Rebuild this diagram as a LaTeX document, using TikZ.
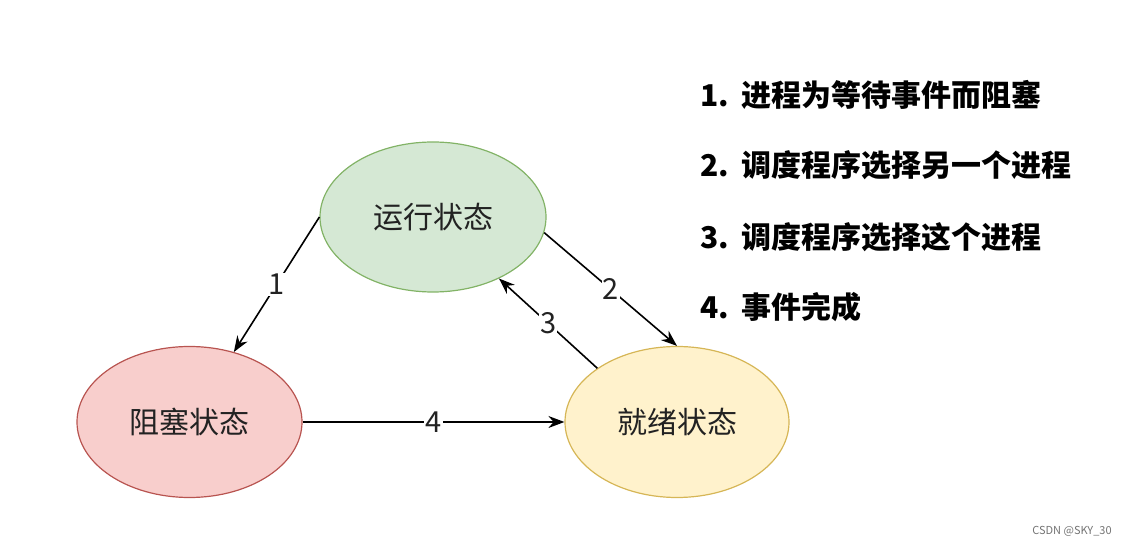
\documentclass[tikz,border=0pt]{standalone}
\usepackage{fontspec}
\setmainfont{Noto Sans CJK SC}
\usetikzlibrary{shapes.geometric,arrows.meta}
\definecolor{runfill}{HTML}{D5E8D4}
\definecolor{rundraw}{HTML}{82B366}
\definecolor{blockfill}{HTML}{F8CECC}
\definecolor{blockdraw}{HTML}{B85450}
\definecolor{readyfill}{HTML}{FFF2CC}
\definecolor{readydraw}{HTML}{D6B656}
\definecolor{statetext}{HTML}{222222}
\begin{document}
\begin{tikzpicture}[x=1pt,y=1pt,
    state/.style={ellipse, inner sep=0pt, line width=1.2pt, text=statetext,
        font=\fontsize{30}{36}\selectfont},
    trans/.style={-{Stealth[length=16pt,width=12pt]}, line width=1.6pt},
    num/.style={fill=white, inner sep=1pt, text=statetext,
        font=\fontsize{29}{34}\selectfont},
    note/.style={anchor=west, inner sep=0pt, font=\fontsize{30}{36}\selectfont\bfseries}]
    \useasboundingbox (0,0) rectangle (1130,546);

    % the three states
    \node[state, fill=runfill, draw=rundraw, minimum width=226pt, minimum height=150pt] (run) at (433,329) {运行状态};
    \node[state, fill=blockfill, draw=blockdraw, minimum width=225pt, minimum height=151pt] (block) at (189.5,124) {阻塞状态};
    \node[state, fill=readyfill, draw=readydraw, minimum width=224pt, minimum height=151pt] (ready) at (677,124) {就绪状态};

    % transitions
    \draw[trans] (run.west) -- node[num] (n1) {1} (block);
    \draw[trans] (run.-8) -- node[num] (n2) {2} (ready.north);
    \draw[trans] (ready.146) -- node[num] (n3) {3} (run.-43);
    \draw[trans] (block.east) -- node[num] (n4) {4} (ready.west);

    % legend
    \node[note] (l1) at (700,451) {1.\hspace{12pt}进程为等待事件而阻塞};
    \node[note] (l2) at (700,381) {2.\hspace{12pt}调度程序选择另一个进程};
    \node[note] (l3) at (700,309) {3.\hspace{12pt}调度程序选择这个进程};
    \node[note] (l4) at (700,239) {4.\hspace{12pt}事件完成};

    \node[text=black!55, font=\fontsize{11}{13}\selectfont] (mark) at (1072,15) {CSDN @SKY\_30};
\end{tikzpicture}
\end{document}
